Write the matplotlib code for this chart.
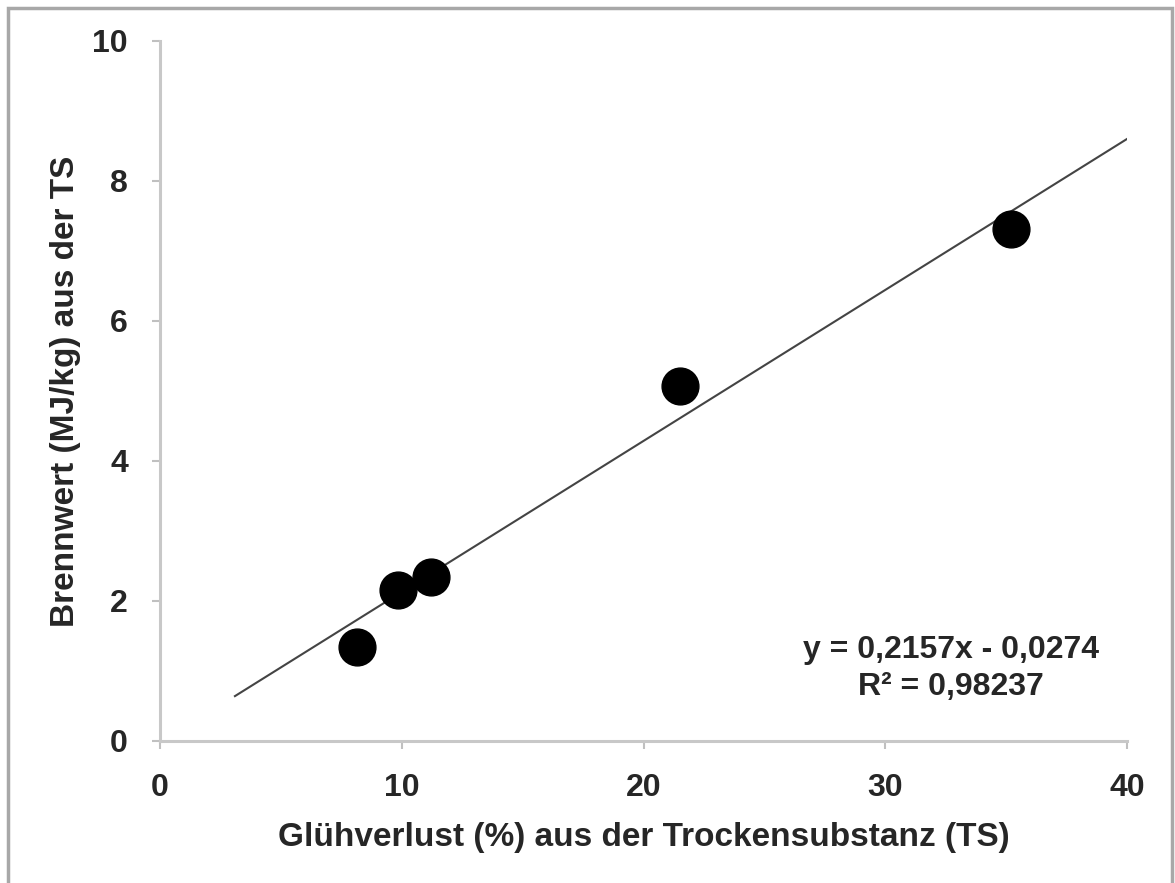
import matplotlib
matplotlib.use("Agg")
import matplotlib.pyplot as plt
from matplotlib.patches import Rectangle
import numpy as np

plt.rcParams['font.family'] = ['Liberation Sans', 'DejaVu Sans']

# Data
gluehverlust = [8.15, 9.85, 11.2, 21.5, 35.2]     # % of TS
brennwert = [1.34, 2.16, 2.35, 5.07, 7.31]         # MJ/kg TS
slope, intercept = 0.2157, -0.0274
trend_x = [3.1, 40.0]
x_ticks = [0, 10, 20, 30, 40]
y_ticks = [0, 2, 4, 6, 8, 10]
eq_text = "y = 0,2157x - 0,0274"
r2_text = "R² = 0,98237"
x_label = "Glühverlust (%) aus der Trockensubstanz (TS)"
y_label = "Brennwert (MJ/kg) aus der TS"

fig = plt.figure(figsize=(11.75, 8.83), dpi=100)
ax = fig.add_axes([160/1175, 1-741/883, (1127-160)/1175, (741-41)/883])

tx = np.array(trend_x)
ax.plot(tx, slope*tx + intercept, color='#444444', lw=1.5, zorder=2)
ax.plot(gluehverlust, brennwert, 'o', color='black', ms=26.5, zorder=3)

ax.set_xlim(0, 40)
ax.set_ylim(0, 10)
ax.set_xticks(x_ticks)
ax.set_yticks(y_ticks)
for s in ['top', 'right']:
    ax.spines[s].set_visible(False)
for s in ['left', 'bottom']:
    ax.spines[s].set_color('#c8c8c8')
    ax.spines[s].set_linewidth(2.2)
ax.tick_params(axis='both', direction='out', length=6, width=1.5, color='#c0c0c0',
               labelsize=23, labelcolor='#262626')
ax.tick_params(axis='y', pad=17)
ax.tick_params(axis='x', pad=17)
for lbl in ax.get_xticklabels() + ax.get_yticklabels():
    lbl.set_fontweight('bold')

ax.set_xlabel(x_label, fontsize=24, fontweight='bold', color='#262626', labelpad=14)
ax.set_ylabel(y_label, fontsize=24, fontweight='bold', color='#262626', labelpad=8)

ax.text(0.818, 0.104, eq_text + "\n" + r2_text, transform=ax.transAxes,
        ha='center', va='center', fontsize=23, fontweight='bold', color='#262626',
        linespacing=1.3)

fig.add_artist(Rectangle((8/1175, -0.01), (1172-8)/1175, (883-8)/883 + 0.01,
                         transform=fig.transFigure, fill=False,
                         edgecolor='#a8a8a8', lw=2.5))

fig.savefig("out.png", dpi=100)
